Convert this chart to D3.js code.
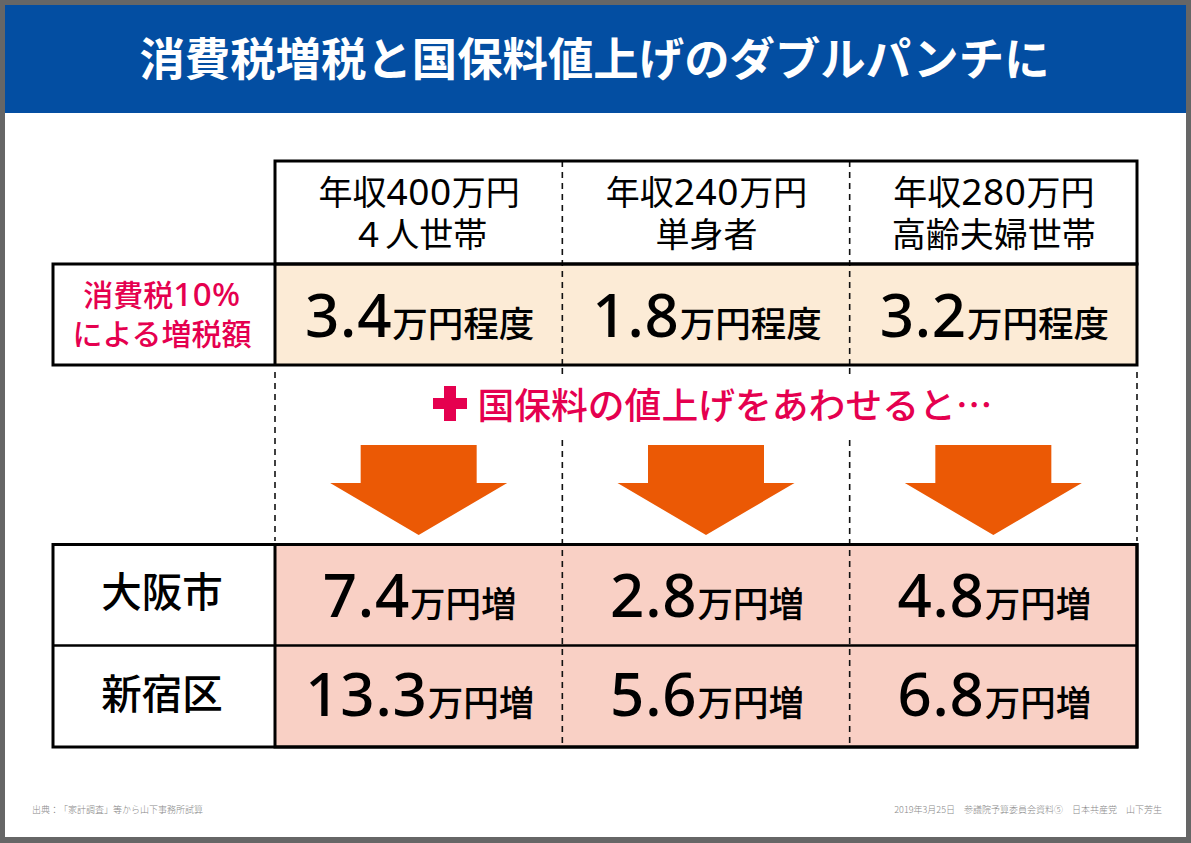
<!DOCTYPE html>
<html>
<head>
<meta charset="utf-8">
<script src="https://cdn.jsdelivr.net/npm/d3@7"></script>
<style>
html, body { margin: 0; padding: 0; background: #fff; }
svg { display: block; }
text { font-family: "Noto Sans CJK JP", sans-serif; text-spacing-trim: space-all; }
.num { font-family: "Noto Sans", "Noto Sans CJK JP", sans-serif; }
</style>
</head>
<body>
<svg id="chart" width="1191" height="843"></svg>
<script>
var title = "消費税増税と国保料値上げのダブルパンチに";
var groups = ["年収400万円|４人世帯", "年収240万円|単身者", "年収280万円|高齢夫婦世帯"];
var taxLabel = ["消費税10%", "による増税額"];
var taxValues = ["3.4", "1.8", "3.2"];
var taxUnit = "万円程度";
var plusText = "国保料の値上げをあわせると…";
var cities = ["大阪市", "新宿区"];
var osakaValues = ["7.4", "2.8", "4.8"];
var shinjukuValues = ["13.3", "5.6", "6.8"];
var riseUnit = "万円増";
var sourceText = "出典：「家計調査」等から山下事務所試算";
var creditText = "2019年3月25日　参議院予算委員会資料⑤　日本共産党　山下芳生";

var svg = d3.select("#chart");
var red = "#e5004f", orange = "#eb5905", blue = "#034ea2";

// columns and rows
var x = d3.scaleBand().domain(groups).range([275, 1137]);
var valueY = d3.scalePoint().domain(cities).range([617, 716]);
var cityY = d3.scalePoint().domain(cities).range([607, 709]);
var labelX = 162;

function cx(i) { return x(groups[i]) + x.bandwidth() / 2; }

// kanji at one size, latin digits at another
function mixed(parent, str, size, digitSize) {
    str.split(/([0-9%]+)/).forEach(function(part, k) {
        if (!part) return;
        var s = parent.append("tspan").text(part);
        if (k % 2) s.attr("class", "num").attr("font-size", digitSize).attr("letter-spacing", 0.6);
        else s.attr("font-size", size);
    });
}

// page frame
svg.append("rect").attr("width", 1191).attr("height", 843).attr("fill", "#666");
svg.append("rect").attr("x", 5).attr("y", 5).attr("width", 1181).attr("height", 832).attr("fill", "#fff");
svg.append("rect").attr("x", 5).attr("y", 5).attr("width", 1181).attr("height", 108).attr("fill", blue);
svg.append("text").attr("x", 594.5).attr("y", 76).attr("text-anchor", "middle")
    .attr("fill", "#fff").attr("font-size", 45.4).attr("font-weight", 700).text(title);

// fills
svg.append("rect").attr("x", 275).attr("y", 264).attr("width", 862).attr("height", 101).attr("fill", "#fcebd6");
svg.append("rect").attr("x", 275).attr("y", 544.5).attr("width", 862).attr("height", 202.5).attr("fill", "#f9d0c5");

// dashed column lines
var dashes = [[161, 365, x(groups[1])], [161, 365, x(groups[2])],
    [368, 378, x(groups[1])], [368, 378, x(groups[2])],
    [440, 747, x(groups[1])], [440, 747, x(groups[2])],
    [372, 541, 1137], [372, 541, 275]];
dashes.forEach(function(d) {
    svg.append("line").attr("x1", d[2]).attr("x2", d[2]).attr("y1", d[0]).attr("y2", d[1])
        .attr("stroke", "#111").attr("stroke-width", 1.6).attr("stroke-dasharray", "6 5");
});

// table borders
function box(x0, y0, x1, y1) {
    svg.append("rect").attr("x", x0).attr("y", y0).attr("width", x1 - x0).attr("height", y1 - y0)
        .attr("fill", "none").attr("stroke", "#000").attr("stroke-width", 3);
}
box(275, 161, 1137, 264);
box(53, 264, 1137, 365);
box(53, 544.5, 1137, 747);
box(275, 544.5, 1137, 747);
svg.append("line").attr("x1", 53).attr("x2", 1137).attr("y1", 645.5).attr("y2", 645.5).attr("stroke", "#000").attr("stroke-width", 2.5);
svg.append("line").attr("x1", 275).attr("x2", 275).attr("y1", 264).attr("y2", 365).attr("stroke", "#000").attr("stroke-width", 3);

// column headings
groups.forEach(function(g, i) {
    var t = svg.append("text").attr("text-anchor", "middle").attr("font-weight", 400).attr("fill", "#000");
    g.split("|").forEach(function(line, j) {
        var l = t.append("tspan").attr("x", cx(i) + 0.5).attr("y", 205 + j * 42);
        mixed(l, line, 34, 37);
    });
});

// tax row
var taxText = svg.append("text").attr("text-anchor", "middle").attr("font-weight", 500).attr("fill", red);
taxLabel.forEach(function(t, j) {
    var l = taxText.append("tspan").attr("x", labelX).attr("y", 306 + j * 39);
    mixed(l, t, 30, 33);
});

function valueCell(val, unit, i, y, dx) {
    var t = svg.append("text").attr("x", cx(i) + dx).attr("y", y).attr("text-anchor", "middle").attr("fill", "#000");
    t.append("tspan").attr("class", "num").attr("font-size", 60).attr("font-weight", 500).attr("letter-spacing", 0.8).text(val);
    t.append("tspan").attr("font-size", 35.5).attr("font-weight", 500).text(unit);
}
taxValues.forEach(function(v, i) { valueCell(v, taxUnit, i, 336.5, 1); });

// plus line
svg.append("text").attr("x", 735).attr("y", 419).attr("text-anchor", "middle")
    .attr("font-size", 36.8).attr("font-weight", 500).attr("fill", red).text(plusText);
svg.append("path").attr("fill", red)
    .attr("d", d3.line()([[444, 386], [456, 386], [456, 398], [467, 398], [467, 409], [456, 409], [456, 421], [444, 421], [444, 409], [433, 409], [433, 398], [444, 398]]) + "Z");

// arrows
groups.forEach(function(g, i) {
    var c = cx(i);
    svg.append("path").attr("fill", orange)
        .attr("d", d3.line()([[c - 58, 445], [c + 58, 445], [c + 58, 483], [c + 88.5, 483], [c, 535], [c - 88.5, 483], [c - 58, 483]]) + "Z");
});

// city rows
[osakaValues, shinjukuValues].forEach(function(vals, r) {
    svg.append("text").attr("x", labelX).attr("y", cityY(cities[r])).attr("text-anchor", "middle")
        .attr("font-size", 40.5).attr("font-weight", 500).attr("fill", "#000").text(cities[r]);
    vals.forEach(function(v, i) { valueCell(v, riseUnit, i, valueY(cities[r]), 1); });
});

// footnotes
svg.append("text").attr("x", 32).attr("y", 813).attr("font-size", 9).attr("font-weight", 300).attr("fill", "#888").text(sourceText);
svg.append("text").attr("x", 1162).attr("y", 813).attr("text-anchor", "end").attr("font-size", 9).attr("font-weight", 300).attr("fill", "#888").text(creditText);
</script>
</body>
</html>
